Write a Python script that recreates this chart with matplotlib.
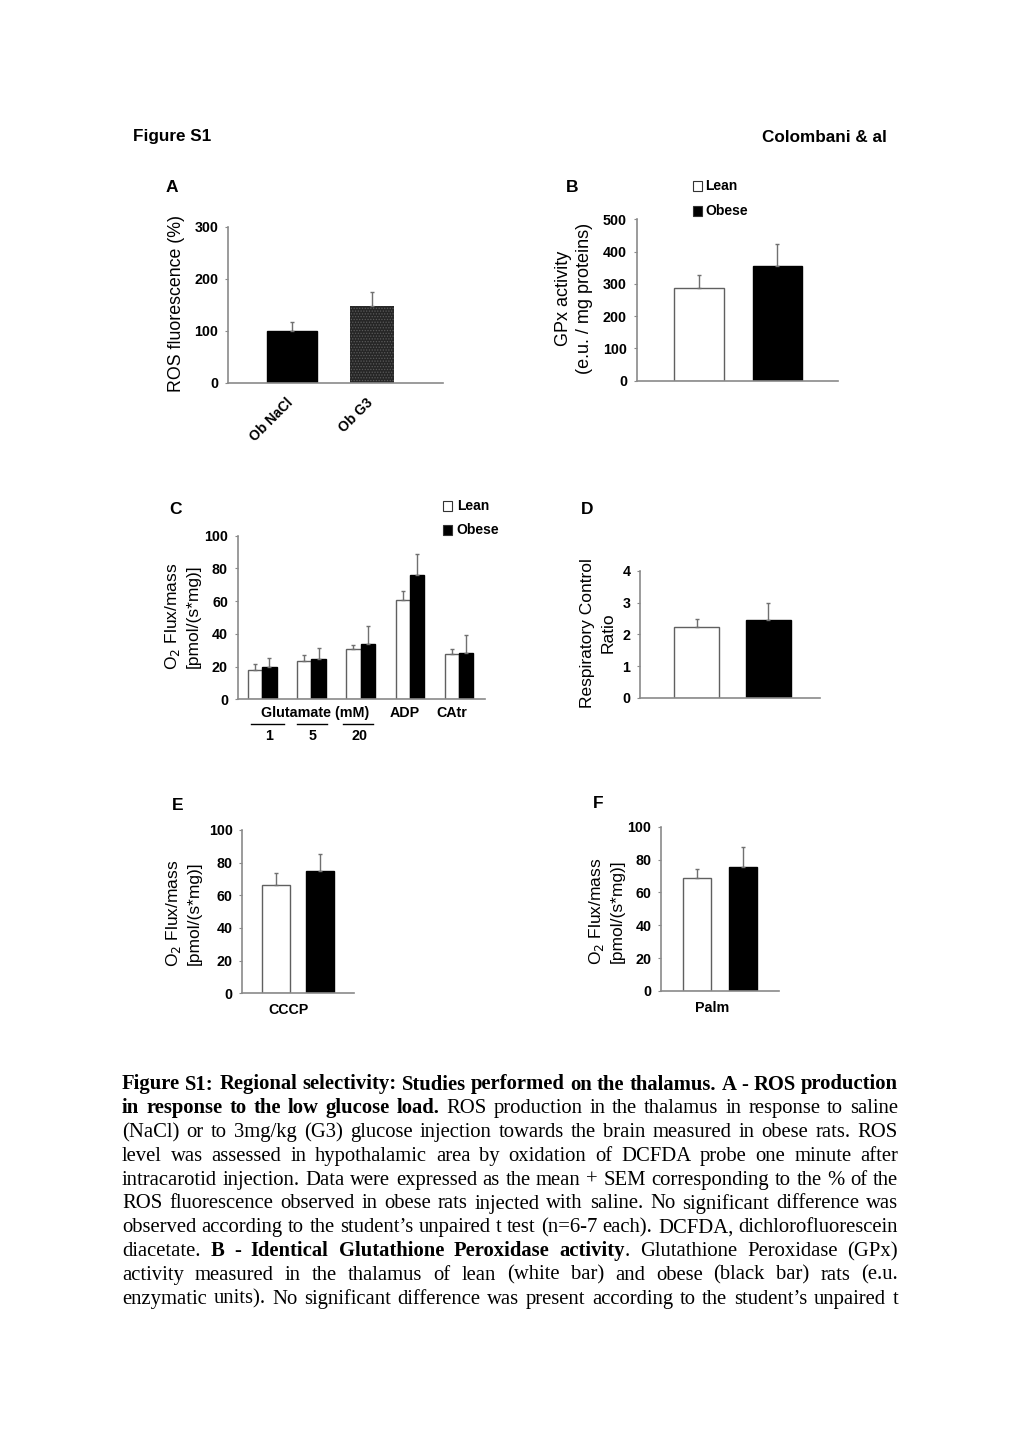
import matplotlib
matplotlib.use("Agg")
import matplotlib.pyplot as plt
from matplotlib.patches import Rectangle
from matplotlib.lines import Line2D
from matplotlib.transforms import ScaledTranslation

# ---------------- data ----------------
a_labels = ["Ob NaCl", "Ob G3"]
a_values = [100, 147]
a_errors = [17, 28]

b_values = [286, 355]
b_errors = [42, 68]
b_ticks = [0, 100, 200, 300, 400, 500]

c_groups = ["1", "5", "20", "ADP", "CAtr"]
c_lean = [18, 23.6, 30.6, 61, 27.5]
c_lean_err = [3.5, 3.5, 2.5, 5, 3.4]
c_obese = [19.7, 24.4, 34, 75.8, 28.1]
c_obese_err = [5.7, 6.8, 10.8, 12.8, 11.2]
c_ticks = [0, 20, 40, 60, 80, 100]

d_values = [2.24, 2.45]
d_errors = [0.25, 0.55]
d_ticks = [0, 1, 2, 3, 4]

e_values = [66.3, 74.9]
e_errors = [7.2, 10.2]
f_values = [68.6, 75.3]
f_errors = [5.5, 12.2]
ef_ticks = [0, 20, 40, 60, 80, 100]

legend_labels = ["Lean", "Obese"]

caption_lines = [
    [("Figure S1: Regional selectivity: Studies performed on the thalamus. A - ROS production", True)],
    [("in response to the low glucose load.", True), (" ROS production in the thalamus in response to saline", False)],
    [("(NaCl) or to 3mg/kg (G3) glucose injection towards the brain measured in obese rats. ROS", False)],
    [("level was assessed in hypothalamic area by oxidation of DCFDA probe one minute after", False)],
    [("intracarotid injection. Data were expressed as the mean + SEM corresponding to the % of the", False)],
    [("ROS fluorescence observed in obese rats injected with saline. No significant difference was", False)],
    [("observed according to the student\u2019s unpaired t test (n=6-7 each). DCFDA, dichlorofluorescein", False)],
    [("diacetate. ", False), ("B - Identical Glutathione Peroxidase activity", True), (". Glutathione Peroxidase (GPx)", False)],
    [("activity measured in the thalamus of lean (white bar) and obese (black bar) rats (e.u.", False)],
    [("enzymatic units). No significant difference was present according to the student\u2019s unpaired t", False)],
]

# ---------------- setup ----------------
W, H = 1020, 1443
fig = plt.figure(figsize=(W / 100, H / 100), dpi=100)
fig.patch.set_facecolor("white")
SANS = "Liberation Sans"
SERIF = "Liberation Serif"
SPINE = "#8a8a8a"
ERR = "#707070"
EDGE = "#606060"


def fx(x):
    return x / W


def fy(y):
    return 1 - y / H


def make_ax(x0, x1, y0, y1):
    ax = fig.add_axes([fx(x0), fy(y0), fx(x1) - fx(x0), (y0 - y1) / H])
    for s in ["top", "right"]:
        ax.spines[s].set_visible(False)
    for s in ["left", "bottom"]:
        ax.spines[s].set_color(SPINE)
        ax.spines[s].set_linewidth(1.2)
    ax.tick_params(axis="y", length=2, color=SPINE, pad=5, labelsize=10)
    ax.tick_params(axis="x", length=0)
    ax.set_facecolor("none")
    return ax


def style_yticks(ax, ticks):
    ax.set_yticks(ticks)
    ax.set_yticklabels([str(t) for t in ticks], fontfamily=SANS,
                       fontweight="bold", fontsize=10.3)


def ylab(x, y, text, size=12.5):
    fig.text(fx(x), fy(y), text, rotation=90, ha="center", va="center",
             fontfamily=SANS, fontsize=size)


def letter(x, y, t):
    fig.text(fx(x), fy(y), t, ha="center", va="center", fontfamily=SANS,
             fontsize=12.5, fontweight="bold")


def legend(xsq, xtxt, ys, size=9):
    for (y, lab, fc) in zip(ys, legend_labels, ["white", "black"]):
        fig.patches.append(Rectangle((fx(xsq), fy(y + size / 2)), size / W, size / H,
                                     transform=fig.transFigure, facecolor=fc,
                                     edgecolor="#333333", linewidth=0.8))
        fig.text(fx(xtxt), fy(y), lab, ha="left", va="center", fontfamily=SANS,
                 fontsize=10, fontweight="bold")


def two_bars(ax, vals, errs, width):
    ax.bar([0], vals[0], width, color="white", edgecolor=EDGE, linewidth=1)
    ax.bar([1], vals[1], width, color="black", edgecolor="black", linewidth=1)
    ax.errorbar([0, 1], vals, yerr=[[0, 0], errs], fmt="none", ecolor=ERR,
                elinewidth=1, capsize=1.5, capthick=1)


# header
fig.text(fx(132.7), fy(137), "Figure S1", ha="left", va="center", fontfamily=SANS,
         fontsize=12.3, fontweight="bold")
fig.text(fx(886.7), fy(137), "Colombani & al", ha="right", va="center", fontfamily=SANS,
         fontsize=12.3, fontweight="bold")

# ---------------- Panel A ----------------
letter(172, 187, "A")
axA = make_ax(228, 443, 382.7, 226.7)
xs = [0, 1]
plt.rcParams["hatch.linewidth"] = 0.6
axA.bar([0], a_values[0], 0.62, color="black", edgecolor="black", linewidth=1)
axA.bar([1], a_values[1], 0.55, color="#262626", edgecolor="#5a5a5a", hatch="......", linewidth=0)
axA.errorbar(xs, a_values, yerr=[[0, 0], a_errors], fmt="none", ecolor=ERR,
             elinewidth=1, capsize=1.5, capthick=1)
axA.set_xlim(-0.803, 1.895)
axA.set_ylim(0, 300)
style_yticks(axA, [0, 100, 200, 300])
axA.set_xticks(xs)
axA.set_xticklabels(a_labels, rotation=45, ha="right", rotation_mode="anchor",
                    fontfamily=SANS, fontweight="bold", fontsize=10)
axA.tick_params(axis="x", pad=9)
shift = ScaledTranslation(-6 / 100, 0, fig.dpi_scale_trans)
for lab in axA.get_xticklabels():
    lab.set_transform(lab.get_transform() + shift)
ylab(177, 303, "ROS fluorescence (%)", 12.8)

# ---------------- Panel B ----------------
letter(572, 187, "B")
axB = make_ax(636.7, 838, 380.7, 219.3)
two_bars(axB, b_values, b_errors, 0.63)
axB.set_xlim(-0.794, 1.771)
axB.set_ylim(0, 500)
style_yticks(axB, b_ticks)
axB.set_xticks([])
ylab(563, 298, "GPx activity", 13)
ylab(585, 298, "(e.u. / mg proteins)", 13)
legend(693, 705, [186, 211])

# ---------------- Panel C ----------------
letter(176, 509, "C")
axC = make_ax(237.7, 485, 699.3, 535.7)
cx = list(range(len(c_groups)))
bw = 0.29
axC.bar([i - bw / 2 for i in cx], c_lean, bw, color="white", edgecolor=EDGE, linewidth=1)
axC.bar([i + bw / 2 for i in cx], c_obese, bw, color="black", edgecolor="black", linewidth=1)
axC.errorbar([i - bw / 2 for i in cx], c_lean, yerr=[[0] * 5, c_lean_err], fmt="none",
             ecolor=ERR, elinewidth=1, capsize=1.5, capthick=1)
axC.errorbar([i + bw / 2 for i in cx], c_obese, yerr=[[0] * 5, c_obese_err], fmt="none",
             ecolor=ERR, elinewidth=1, capsize=1.5, capthick=1)
axC.set_xlim(-0.5, 4.53)
axC.set_ylim(0, 100)
style_yticks(axC, c_ticks)
axC.set_xticks([])
ylab(173, 616, "O$_2$ Flux/mass", 12.5)
ylab(193, 616, "[pmol/(s*mg)]", 12.5)
legend(443.5, 456.7, [506, 530])
# category labels
fig.text(fx(315), fy(713), "Glutamate (mM)", ha="center", va="center", fontfamily=SANS,
         fontsize=10.3, fontweight="bold")
fig.text(fx(405), fy(713), c_groups[3], ha="center", va="center", fontfamily=SANS,
         fontsize=10.3, fontweight="bold")
fig.text(fx(452), fy(713), c_groups[4], ha="center", va="center", fontfamily=SANS,
         fontsize=10.3, fontweight="bold")
for (xa, xb, xt), g in zip([(250.7, 284, 269), (296.7, 326.7, 312.5), (343.3, 373.3, 359)],
                           c_groups[:3]):
    fig.lines.append(Line2D([fx(xa), fx(xb)], [fy(724), fy(724)], transform=fig.transFigure,
                            color="black", linewidth=1))
    fig.text(fx(xt), fy(736), g, ha="center", va="center", fontfamily=SANS,
             fontsize=10.3, fontweight="bold")

# ---------------- Panel D ----------------
letter(587, 509, "D")
axD = make_ax(640, 820, 697.7, 571)
two_bars(axD, d_values, d_errors, 0.63)
axD.set_xlim(-0.792, 1.722)
axD.set_ylim(0, 4)
style_yticks(axD, d_ticks)
axD.set_xticks([])
ylab(588, 633, "Respiratory Control", 12.5)
ylab(608, 633, "Ratio", 12.5)

# ---------------- Panel E ----------------
letter(178, 805, "E")
axE = make_ax(242.3, 354, 993.3, 830)
two_bars(axE, e_values, e_errors, 0.62)
axE.set_xlim(-0.758, 1.769)
axE.set_ylim(0, 100)
style_yticks(axE, ef_ticks)
axE.set_xticks([])
ylab(174, 913, "O$_2$ Flux/mass", 12.5)
ylab(194, 913, "[pmol/(s*mg)]", 12.5)
fig.text(fx(289), fy(1010), "CCCP", ha="center", va="center", fontfamily=SANS,
         fontsize=10.3, fontweight="bold")

# ---------------- Panel F ----------------
letter(598, 803, "F")
axF = make_ax(661, 779.3, 991, 826.7)
two_bars(axF, f_values, f_errors, 0.62)
axF.set_xlim(-0.794, 1.80)
axF.set_ylim(0, 100)
style_yticks(axF, ef_ticks)
axF.set_xticks([])
ylab(597, 911, "O$_2$ Flux/mass", 12.5)
ylab(617, 911, "[pmol/(s*mg)]", 12.5)
fig.text(fx(712), fy(1008), "Palm", ha="center", va="center", fontfamily=SANS,
         fontsize=10.3, fontweight="bold")

# ---------------- Caption (justified) ----------------
renderer = fig.canvas.get_renderer()
LEFT, RIGHT = 122, 898
Y0, DY = 1089.5, 23.8


def words_of(segs):
    words = []
    new = True
    for text, b in segs:
        parts = text.split(" ")
        for i, p in enumerate(parts):
            if i > 0:
                new = True
            if p == "":
                continue
            if new or not words:
                words.append([(p, b)])
            else:
                words[-1].append((p, b))
            new = False
    return words


def measure(p, b, size):
    t = fig.text(0, 0, p, fontfamily=SERIF, fontsize=size,
                 fontweight="bold" if b else "normal")
    w = t.get_window_extent(renderer).width
    t.remove()
    return w


# choose font size so the tightest line fits with a normal word space
base = 11.5
sp = measure("a b", False, base) - measure("ab", False, base)
nat = []
for segs in caption_lines:
    words = words_of(segs)
    tot = sum(measure(p, b, base) for w in words for p, b in w)
    nat.append(tot + sp * (len(words) - 1))
CAP_SIZE = base * (RIGHT - LEFT) / max(nat)

for li, segs in enumerate(caption_lines):
    ybase = Y0 + li * DY
    words = words_of(segs)
    objs = []
    widths = []
    for w in words:
        wo = []
        ww = 0
        for p, b in w:
            t = fig.text(0, fy(ybase), p, ha="left", va="baseline", fontfamily=SERIF,
                         fontsize=CAP_SIZE, fontweight="bold" if b else "normal")
            pw = t.get_window_extent(renderer).width
            wo.append((t, pw))
            ww += pw
        objs.append(wo)
        widths.append(ww)
    gap = (RIGHT - LEFT - sum(widths)) / max(len(words) - 1, 1)
    x = LEFT
    for wo, ww in zip(objs, widths):
        xx = x
        for t, pw in wo:
            t.set_x(fx(xx))
            xx += pw
        x += ww + gap

fig.savefig("out.png", dpi=100, facecolor="white")
